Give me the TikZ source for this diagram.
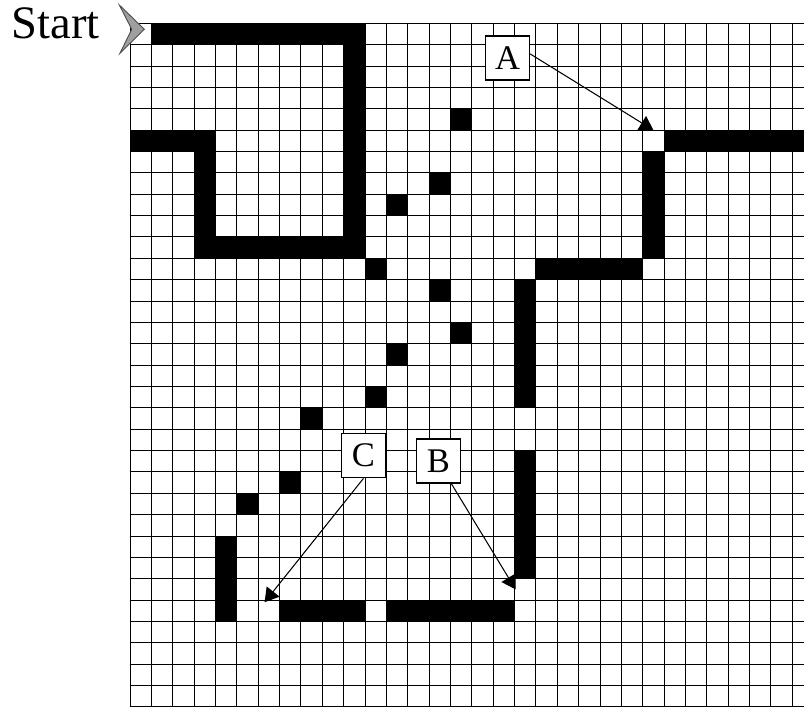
\documentclass[tikz,border=0pt]{standalone}
\usepackage{fontspec}
\setmainfont{Liberation Serif}
\usetikzlibrary{positioning, arrows.meta}

\begin{document}
\begin{tikzpicture}[x=0.5cm, y=0.5cm]
  \tikzset{
    gridline/.style={
      draw=black,
      line width=0.6pt
    },
    wall/.style={
      fill=black
    },
    marker/.style={
      draw,
      line width=0.9pt,
      fill=white,
      minimum size=1.03cm,
      inner sep=0pt,
      font=\fontsize{23}{27}\selectfont
    },
    pointer/.style={
      line width=0.7pt,
      -{Triangle[width=0.38cm, length=0.32cm]}
    },
    startlabel/.style={
      font=\fontsize{31}{36}\selectfont,
      anchor=base
    }
  }
  \useasboundingbox (-6.086,1.091) rectangle (31.55,-31.96);
  \clip (-6.086,1.091) rectangle (31.55,-31.96);

  % Draw the grid
  \foreach \i in {0,...,32} {
    \draw[gridline] (\i,0) -- (\i,-32);
    \draw[gridline] (0,-\i) -- (32,-\i);
  }

  % Walls (first col / first row / last col / last row)
  \foreach \ca/\ra/\cb/\rb in {1/0/10/0, 10/0/10/10, 3/10/10/10, 0/5/3/5, 3/5/3/10,
      25/5/32/5, 24/6/24/10, 19/11/23/11, 18/12/18/17, 18/20/18/25,
      12/27/17/27, 7/27/10/27, 4/24/4/27} {
    \fill[wall] (\ca,-\ra) rectangle ({\cb+1},{-\rb-1});
  }

  % Single blocks
  \foreach \c/\r in {11/11, 12/8, 14/7, 15/4, 14/12, 15/14, 12/15, 11/17, 8/18, 7/21, 5/22} {
    \fill[wall] (\c,-\r) rectangle ({\c+1},{-\r-1});
  }

  % Start marker
  \node[startlabel] (start) at (-3.47,-0.70) {Start};
  \filldraw[fill=gray!75, draw=black!70, line width=0.6pt]
    (-0.50,0.857) -- (0.67,-0.28) -- (-0.47,-1.40) -- (0.08,-0.28) -- cycle;

  % Labels and the gaps they point to
  \node[marker] (A) at (17.67,-1.62) {A};
  \node[marker] (B) at (14.43,-20.49) {B};
  \node[marker] (C) at (10.93,-20.24) {C};
  \coordinate (gapA) at (24.5,-5.0);
  \coordinate (gapB) at (18.05,-26.5);
  \coordinate (gapC) at (6.3,-27.1);

  \draw[pointer] (A.10) -- (gapA);
  \draw[pointer] (B.300) -- (gapB);
  \draw[pointer] (C.south) -- (gapC);

\end{tikzpicture}
\end{document}
